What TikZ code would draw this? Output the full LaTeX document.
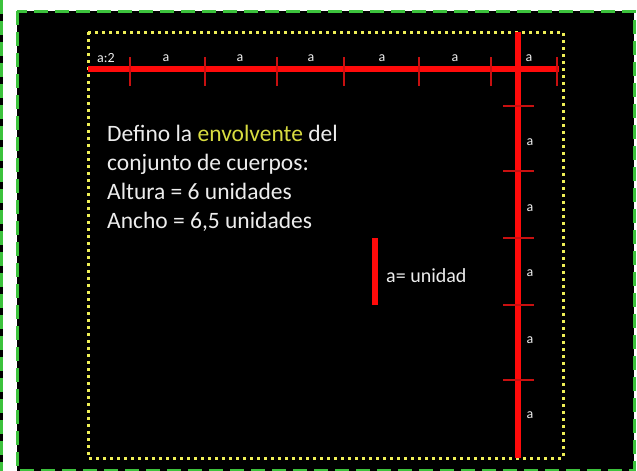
\documentclass[tikz,border=0pt]{standalone}
\usepackage{fontspec}
\setmainfont{Carlito}
\definecolor{bg}{HTML}{000000}
\definecolor{grn}{HTML}{3CC23C}
\definecolor{ylw}{HTML}{EEEE55}
\definecolor{envc}{HTML}{D8DC40}
\definecolor{rd}{HTML}{FF0A0A}
\definecolor{rdt}{HTML}{C81010}
\definecolor{txt}{HTML}{EDEDED}
\tikzset{
  greenborder/.style={draw=grn, line width=3pt, dash pattern=on 14pt off 7pt},
  envbox/.style={draw=ylw, line width=3pt, dash pattern=on 3pt off 4pt},
  redbar/.style={draw=rd, line width=5.5pt},
  redtick/.style={draw=rdt, line width=1.6pt},
  alabel/.style={text=txt, font=\fontsize{14}{16}\selectfont, inner sep=0pt},
  bodytext/.style={text=txt, font=\fontsize{23.5}{29}\selectfont, anchor=base west, inner sep=0pt},
}
\begin{document}
\begin{tikzpicture}[x=1pt,y=-1pt]
\useasboundingbox (0,0) rectangle (637,471);
\fill[white] (0,0) rectangle (637,471);
% left strip
\draw[black, line width=3pt] (1.5,0) -- (1.5,471);
\draw[grn, line width=3pt, dash pattern=on 14pt off 7pt] (1.5,0) -- (1.5,471);
% black panel
\fill[bg] (17,11) rectangle (634,471);
\draw[greenborder] (17,11) rectangle (634,470);
% envelope
\draw[envbox] (88,32) rectangle (563,458);
% horizontal ruler
\coordinate (h0) at (88,69);
\coordinate (h1) at (559,69);
\draw[redbar] (h0) -- (h1);
\foreach \x in {130,205,277,344,419,491,557}{
  \draw[redtick] (\x,57) -- (\x,86);
}
\node[alabel] (ha0) at (106,58) {a:2};
\foreach \x/\n in {166/1,240/2,311/3,382/4,455/5,529/6}{
  \node[alabel] (ha\n) at (\x,58) {a};
}
% vertical ruler
\coordinate (v0) at (518,32);
\coordinate (v1) at (518,458);
\draw[redbar, line width=6pt] (v0) -- (v1);
\foreach \y in {106,171,238,305,380}{
  \draw[redtick] (503,\y) -- (534,\y);
}
\foreach \y/\n in {142/1,208/2,273/3,340/4,415/5}{
  \node[alabel] (va\n) at (530,\y) {a};
}
% text
\node[bodytext] (t1) at (107,141) {Defino la \textcolor{envc}{envolvente} del};
\node[bodytext] (t2) at (107,170) {conjunto de cuerpos:};
\node[bodytext] (t3) at (107,199) {Altura = 6 unidades};
\node[bodytext] (t4) at (107,228) {Ancho = 6,5 unidades};
% unit legend
\coordinate (u0) at (375,238);
\coordinate (u1) at (375,305);
\draw[redbar, line width=6pt] (u0) -- (u1);
\node[text=txt, font=\fontsize{20}{24}\selectfont, anchor=west, inner sep=0pt] (unit) at (386,276) {a= unidad};
\end{tikzpicture}
\end{document}
